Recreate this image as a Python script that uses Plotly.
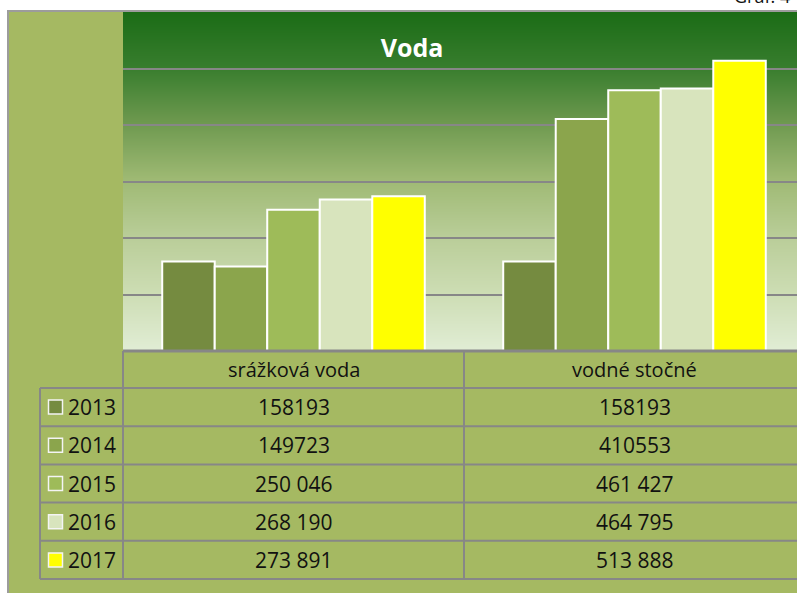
import base64
import struct
import zlib
import plotly.graph_objects as go

# ---------------- data ----------------
categories = ["srážková voda", "vodné stočné"]
years = ["2013", "2014", "2015", "2016", "2017"]
srazkova_voda = [158193, 149723, 250046, 268190, 273891]
vodne_stocne = [158193, 410553, 461427, 464795, 513888]
srazkova_labels = ["158193", "149723", "250 046", "268 190", "273 891"]
vodne_labels = ["158193", "410553", "461 427", "464 795", "513 888"]
series_colors = ["#758B40", "#8BA54C", "#9EBB59", "#D8E4BD", "#FFFF00"]

# ---------------- layout helpers ----------------
W, H = 797, 593
BG = "#A5B962"
LINE = "#878787"
FONT = "Open Sans"
TXT = "#111111"


def px(x):
    return x / W


def py(y):
    return 1 - y / H


PLOT_L, PLOT_T, PLOT_B = 123, 12, 351
CAT_W = 341  # pixel width of one category column
x_range = [-0.5, -0.5 + (W - PLOT_L) / CAT_W]
y_range = [0, 600000]


# vertical gradient image for the plot area (pure-python PNG)
def gradient_png(stops, n=340):
    rows = []
    for i in range(n):
        t = i / (n - 1)
        for j in range(len(stops) - 1):
            t0, c0 = stops[j]
            t1, c1 = stops[j + 1]
            if t0 <= t <= t1:
                f = (t - t0) / (t1 - t0) if t1 > t0 else 0
                rows.append([round(c0[k] + (c1[k] - c0[k]) * f) for k in range(3)])
                break
    raw = b"".join(b"\x00" + bytes(r) for r in rows)

    def chunk(tag, data):
        c = struct.pack(">I", len(data)) + tag + data
        return c + struct.pack(">I", zlib.crc32(tag + data) & 0xFFFFFFFF)

    png = b"\x89PNG\r\n\x1a\n"
    png += chunk(b"IHDR", struct.pack(">IIBBBBB", 1, n, 8, 2, 0, 0, 0))
    png += chunk(b"IDAT", zlib.compress(raw, 9))
    png += chunk(b"IEND", b"")
    return "data:image/png;base64," + base64.b64encode(png).decode()


grad_stops = [
    (0.00, (27, 108, 22)),
    (0.16, (55, 125, 45)),
    (0.32, (108, 152, 78)),
    (0.49, (158, 185, 115)),
    (0.66, (185, 205, 152)),
    (0.83, (205, 221, 180)),
    (1.00, (225, 237, 213)),
]

fig = go.Figure()

for i, year in enumerate(years):
    fig.add_trace(
        go.Bar(
            x=categories,
            y=[srazkova_voda[i], vodne_stocne[i]],
            name=year,
            marker=dict(color=series_colors[i], line=dict(color="white", width=2)),
            showlegend=False,
            hoverinfo="x+y+name",
        )
    )

shapes = []
annotations = []

# outer chart frame
shapes.append(dict(type="rect", xref="paper", yref="paper",
                   x0=px(8), x1=px(830), y0=py(11), y1=py(640),
                   fillcolor=BG, line=dict(color="#9C9C9C", width=2), layer="below"))

# table geometry
HEAD_T, HEAD_B = 351, 388
ROW_H = (579 - 388) / len(years)
COL0_L = 40
col_edges = [PLOT_L + k * CAT_W for k in range(len(categories) + 1)]

# horizontal lines
shapes.append(dict(type="line", xref="paper", yref="paper",
                   x0=px(PLOT_L), x1=1.02, y0=py(HEAD_T), y1=py(HEAD_T),
                   line=dict(color=LINE, width=3)))
for r in range(len(years) + 1):
    yy = HEAD_B + r * ROW_H
    shapes.append(dict(type="line", xref="paper", yref="paper",
                       x0=px(COL0_L), x1=1.02, y0=py(yy), y1=py(yy),
                       line=dict(color=LINE, width=2)))
# vertical lines
shapes.append(dict(type="line", xref="paper", yref="paper",
                   x0=px(COL0_L), x1=px(COL0_L), y0=py(HEAD_B), y1=py(HEAD_B + len(years) * ROW_H),
                   line=dict(color=LINE, width=2)))
for xe in col_edges[:-1]:
    shapes.append(dict(type="line", xref="paper", yref="paper",
                       x0=px(xe), x1=px(xe), y0=py(HEAD_T), y1=py(HEAD_B + len(years) * ROW_H),
                       line=dict(color=LINE, width=2)))

# header texts
for k, cat in enumerate(categories):
    cx = (col_edges[k] + col_edges[k + 1]) / 2
    annotations.append(dict(xref="paper", yref="paper", x=px(cx), y=py((HEAD_T + HEAD_B) / 2),
                            text=cat, showarrow=False, xanchor="center", yanchor="middle",
                            font=dict(family=FONT, size=20, color=TXT)))

# rows
value_labels = [srazkova_labels, vodne_labels]
for r, year in enumerate(years):
    cy = HEAD_B + (r + 0.5) * ROW_H
    # legend key
    shapes.append(dict(type="rect", xref="paper", yref="paper",
                       x0=px(48.5), x1=px(62.5), y0=py(cy - 7), y1=py(cy + 7),
                       fillcolor=series_colors[r], line=dict(color="#F4F4F4", width=1.5)))
    annotations.append(dict(xref="paper", yref="paper", x=px(66), y=py(cy),
                            text=year, showarrow=False, xanchor="left", yanchor="middle",
                            font=dict(family=FONT, size=21, color=TXT)))
    for k in range(len(categories)):
        cx = (col_edges[k] + col_edges[k + 1]) / 2
        annotations.append(dict(xref="paper", yref="paper", x=px(cx), y=py(cy),
                                text=value_labels[k][r], showarrow=False,
                                xanchor="center", yanchor="middle",
                                font=dict(family=FONT, size=21, color=TXT)))

# caption at the very top right (mostly above the visible page, as in the reference)
annotations.append(dict(xref="paper", yref="paper", x=px(792), y=py(10),
                        text="Graf. 4", showarrow=False, xanchor="right", yanchor="bottom",
                        font=dict(family=FONT, size=18, color=TXT)))

fig.update_layout(
    width=W,
    height=H,
    margin=dict(l=0, r=0, t=0, b=0),
    paper_bgcolor="white",
    plot_bgcolor="rgba(0,0,0,0)",
    barmode="group",
    bargap=0.23,
    bargroupgap=0,
    title=dict(text="<b>Voda</b>", x=px(412), xanchor="center", y=py(48), yanchor="middle",
               font=dict(family=FONT, size=25, color="white")),
    xaxis=dict(domain=[px(PLOT_L), 1], range=x_range, showticklabels=False,
               showgrid=False, zeroline=False, showline=False, ticks="",
               fixedrange=True),
    yaxis=dict(domain=[py(PLOT_B), py(PLOT_T)], range=y_range, dtick=100000,
               showticklabels=False, showgrid=True, gridcolor=LINE, gridwidth=2,
               zeroline=False, showline=False, ticks="", fixedrange=True),
    shapes=shapes,
    annotations=annotations,
    images=[dict(source=gradient_png(grad_stops), xref="x", yref="y",
                 x=x_range[0], y=y_range[1], sizex=x_range[1] - x_range[0], sizey=y_range[1],
                 xanchor="left", yanchor="top", sizing="stretch", layer="below")],
)

fig.write_html("out.html",
               config={"displayModeBar": False},
               post_script="document.body.style.margin='0px';document.body.style.overflow='hidden';")
